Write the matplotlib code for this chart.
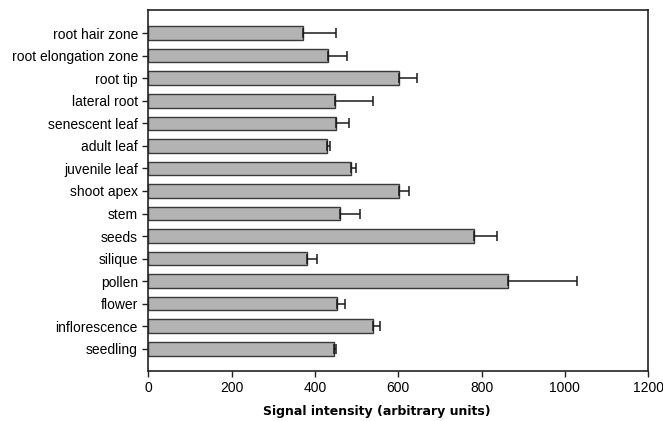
import matplotlib
matplotlib.use("Agg")
import matplotlib.pyplot as plt
import numpy as np

# --- dane ---
tkanki = ['root hair zone', 'root elongation zone', 'root tip', 'lateral root',
          'senescent leaf', 'adult leaf', 'juvenile leaf', 'shoot apex', 'stem',
          'seeds', 'silique', 'pollen', 'flower', 'inflorescence', 'seedling']
sygnal = [372, 431, 602, 449, 450, 430, 487, 602, 461, 782, 382, 864, 454, 539, 445]
blad = [78, 46, 44, 90, 31, 5, 12, 23, 46, 54, 22, 166, 17, 17, 5]
x_ticks = [0, 200, 400, 600, 800, 1000, 1200]

plt.rcParams['font.family'] = ['Liberation Sans', 'DejaVu Sans']

fig = plt.figure(figsize=(6.63, 4.21), dpi=100)
ax = fig.add_axes([0.2237, 0.119, 0.754, 0.857])

pozycje = np.arange(len(tkanki))
ax.barh(pozycje, sygnal, height=0.6, color='#b3b3b3', edgecolor='#3a3a3a',
        linewidth=1.0, xerr=[np.zeros(len(blad)), blad],
        error_kw=dict(ecolor='#1a1a1a', elinewidth=1.1, capsize=3.6, capthick=1.1))

ax.set_ylim(14.98, -1.02)
ax.set_xlim(0, 1200)
ax.set_yticks(pozycje)
ax.set_yticklabels(tkanki, fontsize=10)
ax.set_xticks(x_ticks)
ax.set_xticklabels([str(v) for v in x_ticks], fontsize=10)
ax.tick_params(axis='both', direction='out', length=4, width=1, color='#222222')
for s in ax.spines.values():
    s.set_linewidth(1.2)
    s.set_color('#222222')

ax.set_xlabel('Signal intensity (arbitrary units)', fontsize=9, fontweight='bold',
              family='DejaVu Sans', labelpad=8)
ax.xaxis.set_label_coords(0.457, -0.095)

fig.savefig('out.png', dpi=100)
